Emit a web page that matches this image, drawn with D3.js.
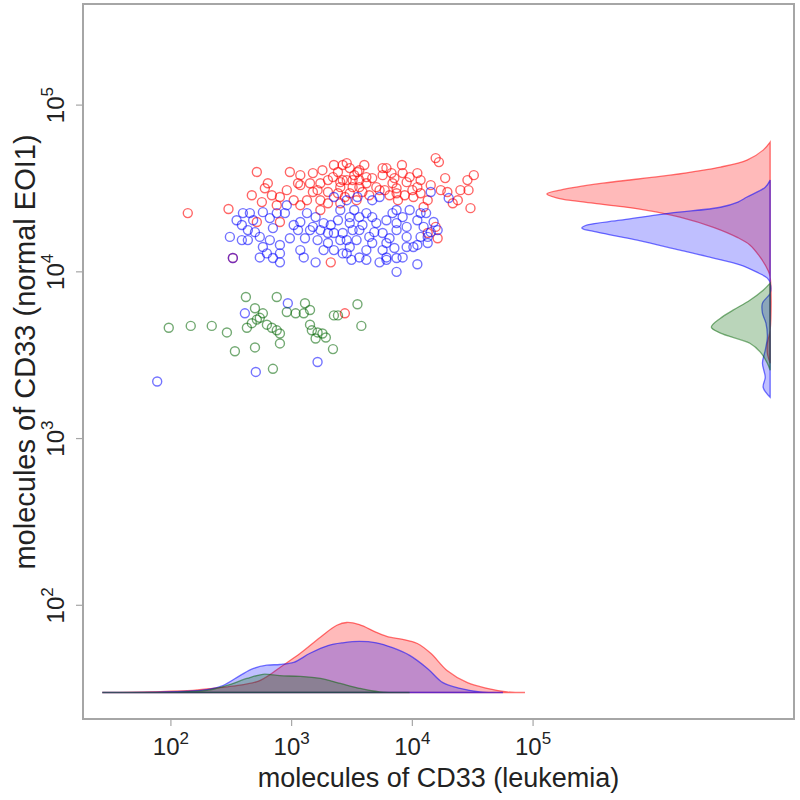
<!DOCTYPE html>
<html><head><meta charset="utf-8">
<script src="https://cdn.jsdelivr.net/npm/d3@7"></script>
<style>body{margin:0;background:#fff}</style>
</head><body>
<svg id="c" width="800" height="800"></svg>
<script>
// ---------- data (molecules of CD33) ----------
const xTicks = [1e2, 1e3, 1e4, 1e5];
const yTicks = [1e2, 1e3, 1e4, 1e5];
const xTitle = "molecules of CD33 (leukemia)";
const yTitle = "molecules of CD33 (normal EOI1)";

// scatter points [leukemia, normal EOI1]
const redPts = [
 [138,22500],[300,23800],[326,12100],[515,39700],[635,34000],[567,26200],[686,28800],[800,28100],
 [753,25100],[515,19900],[800,19900],[967,39700],[1180,38000],[1500,39100],[1130,34000],[1180,33100],
 [1420,34000],[1040,26900],[1180,25100],[1340,26900],[1730,26900],[2000,25800],[1730,23500],[1730,34000],
 [2000,30100],[2240,43700],[2650,43700],[2200,37000],[2530,34500],[2530,32200],[2530,25800],[2860,44900],
 [3030,41900],[3510,39700],[3640,40700],[2860,35500],[3200,32200],[3640,35500],[4160,34000],[4650,36500],
 [5350,30900],[4160,37000],[5030,32200],[3200,35500],[2650,35500],[3640,32200],[3030,29600],[6100,41900],
 [6720,39100],[8310,39100],[11000,39100],[11700,35500],[8970,34500],[7400,31700],[10000,30900],[8640,28800],
 [11700,29600],[13400,26900],[12400,24500],[17200,30900],[19500,30100],[21600,25800],[23800,26900],[15600,48100],
 [16600,45500],[32300,38000],[28600,35500],[29200,30900],[30300,24100],[16200,15900],[13400,17100],[15600,18600],
 [6850,34000],[9500,37000],[11000,32200],[7400,29600],[10200,28100],[2110,11400],[2760,5640],[5670,38000],
 [3860,30100],[2420,29600],[6470,28800],[1500,30100],
 [1800,40700],[2420,39700],[3300,38000],[4000,43700],[5670,41900],[7100,36500],[8200,43700],[5900,30900],
 [4400,28800],[3450,26900],[2760,28100],[2000,35500],[1640,30900],[912,30900],[600,31700],[468,28800],
 [14200,33100],[18700,36500],[25000,30900],[7600,26900]
];
const bluePts = [
 [395,22500],[451,22500],[387,19100],[434,17800],[308,16200],[387,15500],[434,15500],[545,16200],
 [660,15500],[578,14100],[545,12200],[624,12900],[800,14500],[800,12900],[800,11400],[967,15900],
 [578,22800],[660,21000],[753,22500],[880,22500],[912,25100],[1180,19900],[1340,22500],[1580,21300],
 [1420,17800],[1730,17800],[2000,17100],[1180,13500],[1260,12200],[1580,11400],[2240,13500],[2530,15500],
 [2860,12900],[480,20400],[1130,17800],[1500,18600],[1840,19600],[1640,15500],[2000,14900],[2240,17100],
 [2420,20400],[2530,23500],[2860,26900],[3030,21300],[3200,17800],[2860,15500],[3640,12200],[4160,11800],
 [2240,28100],[3510,28100],[4650,26900],[4160,22500],[5030,19600],[5670,17100],[6100,14900],[6850,22500],
 [7400,17800],[8970,16200],[13400,16200],[10200,14100],[11700,22500],[14200,30100],[20000,27700],[5350,28100],
 [7400,23500],[8310,21300],[7400,19600],[8970,18600],[11000,20400],[12400,18600],[15000,19900],[14200,17300],
 [11700,16200],[11000,14500],[13400,14900],[8970,14100],[8310,12200],[7400,12100],[6100,12200],[5670,13500],
 [4650,14900],[4400,16200],[3640,17800],[3030,19600],[2650,17100],[3450,15500],[4160,13500],[3030,14100],
 [2650,12900],[11000,11100],[7400,10000],[6100,11800],[3640,21300],[4650,21300],[6100,20400],[326,12100],
 [77,2200],[410,5640],[930,6480],[505,2510],[1640,2880],
 [497,17300],[350,20400],[700,18300],[1040,19100],[1290,15900],[1840,13500],[2110,19100],[3300,23500],
 [3860,19100],[4840,17300],[6470,15900],[7100,13900],[9500,23500],[13000,22500],[16200,17800],[5350,11400],
 [3130,11800],[700,12100]
];
const greenPts = [
 [96,4620],[146,4740],[218,4740],[291,4330],[339,3340],[418,7060],[497,6050],[426,4620],
 [468,4920],[515,5170],[578,5640],[545,5300],[624,4820],[497,3520],[686,4620],[753,4460],
 [800,4270],[753,7060],[800,3720],[700,2620],[912,5740],[1080,5640],[1260,5640],[1290,6480],
 [1420,5900],[1420,4820],[1470,4460],[1640,4330],[1800,4270],[1580,3980],[1920,4040],[2200,3440],
 [2240,5480],[2420,5480],[3510,6390],[3780,4740]
];

// marginal densities along leukemia axis: [molecules, relative density]
const redDensX = [[27,0],[152,0.03],[223,0.06],[326,0.09],[545,0.17],[850,0.39],[1180,0.56],[1730,0.79],
 [2370,0.96],[2860,1.0],[3640,0.97],[5030,0.86],[6470,0.79],[8310,0.76],[11000,0.70],[14200,0.56],
 [19500,0.31],[28600,0.14],[41500,0.06],[60800,0.01],[85700,0]];
const blueDensX = [[27,0],[199,0.04],[270,0.10],[373,0.24],[478,0.34],[624,0.39],[800,0.40],[1040,0.43],
 [1420,0.56],[2000,0.67],[2650,0.71],[3640,0.73],[5030,0.71],[6850,0.64],[9500,0.53],[13400,0.34],
 [17900,0.14],[24800,0.06],[36300,0.01],[56300,0]];
const greenDensX = [[27,0],[199,0.03],[291,0.10],[426,0.20],[578,0.26],[800,0.24],[1180,0.23],[1730,0.20],
 [2530,0.13],[3640,0.06],[5350,0.01],[9500,0]];

// marginal densities along normal EOI1 axis: [molecules, relative density]
const redDensY = [[60000,0],[53700,0.10],[46800,0.33],[42500,0.71],[38000,1.43],[34000,2.39],[30900,3.00],
 [29300,3.19],[27700,3.04],[25800,2.53],[23400,1.76],[21300,1.29],[18500,0.81],[16100,0.47],[14500,0.29],
 [12200,0.14],[10200,0.03],[9300,0],[4470,0],[3730,0.04],[3250,0.04],[2830,0]];
const blueDensY = [[35500,0],[32200,0.07],[28100,0.33],[26200,0.46],[24400,0.71],[22500,1.43],[20400,2.14],
 [19100,2.61],[18300,2.69],[17300,2.47],[15500,1.90],[13500,1.29],[12100,0.81],[11000,0.43],[9950,0.19],
 [9170,0.04],[8550,0],[7450,0],[6490,0.11],[5650,0.11],[4920,0.06],[4060,0.04],[3390,0.07],[2830,0.11],
 [2330,0.07],[2030,0.10],[1770,0]];
const greenDensY = [[8550,0],[7760,0.10],[6760,0.29],[5890,0.53],[5270,0.71],[4660,0.84],[4290,0.71],
 [3730,0.29],[3300,0.14],[2830,0.04],[2570,0]];

// axis limits and marginal baselines
const xDomain = [18.7, 1.45e7];
const yDomain = [20.8, 4.04e5];
const xMarginBase = 9.2e6;   // baseline of the right-hand density
const yMarginBase = 30;      // baseline of the bottom density

// ---------- drawing ----------
const svg = d3.select("#c");
const box = {l: 83, r: 794, t: 4, b: 719};
const x = d3.scaleLog().domain(xDomain).range([box.l, box.r]);
const y = d3.scaleLog().domain(yDomain).range([box.b, box.t]);
const dLen = d3.scaleLinear().domain([0, 1]).range([0, 70]);
const font = "'Liberation Sans', Arial, Helvetica, sans-serif";

const cols = {
  red:   {stroke: "rgba(255,0,0,0.6)", fill: "rgba(255,0,0,0.27)", line: "rgba(255,0,0,0.55)"},
  blue:  {stroke: "rgba(0,0,255,0.55)", fill: "rgba(0,0,255,0.25)", line: "rgba(0,0,255,0.55)"},
  green: {stroke: "rgba(0,100,0,0.55)", fill: "rgba(0,100,0,0.27)", line: "rgba(0,100,0,0.5)"}
};

// bottom marginal densities
const xb = x(xMarginBase), yb = y(yMarginBase);
const areaX = d3.area().curve(d3.curveCatmullRom.alpha(0.5))
  .x(d => x(d[0])).y0(yb).y1(d => yb - dLen(d[1]));
[[redDensX, cols.red], [blueDensX, cols.blue], [greenDensX, cols.green]].forEach(([d, c]) => {
  svg.append("path").datum(d).attr("d", areaX)
    .attr("fill", c.fill).attr("stroke", c.line).attr("stroke-width", 1.3);
});

// right marginal densities
const areaY = d3.area().curve(d3.curveCatmullRom.alpha(0.5))
  .y(d => y(d[0])).x0(xb).x1(d => xb - dLen(d[1]));
[[redDensY, cols.red], [blueDensY, cols.blue], [greenDensY, cols.green]].forEach(([d, c]) => {
  svg.append("path").datum(d).attr("d", areaY)
    .attr("fill", c.fill).attr("stroke", c.line).attr("stroke-width", 1.3);
});

// scatter
[[redPts, cols.red], [bluePts, cols.blue], [greenPts, cols.green]].forEach(([pts, c]) => {
  svg.append("g").selectAll("circle").data(pts).join("circle")
    .attr("cx", d => x(d[0])).attr("cy", d => y(d[1])).attr("r", 4.5)
    .attr("fill", "none").attr("stroke", c.stroke).attr("stroke-width", 1.4);
});

// frame
svg.append("rect").attr("x", box.l).attr("y", box.t)
  .attr("width", box.r - box.l).attr("height", box.b - box.t)
  .attr("fill", "none").attr("stroke", "#a6a6a6").attr("stroke-width", 2);

// x ticks
const gx = svg.append("g");
xTicks.forEach(t => {
  const px = x(t);
  gx.append("line").attr("x1", px).attr("x2", px).attr("y1", box.b).attr("y2", box.b + 7)
    .attr("stroke", "#a6a6a6").attr("stroke-width", 1.2);
  const tx = gx.append("text").attr("x", px).attr("y", 755).attr("text-anchor", "middle")
    .attr("font-family", font).attr("font-size", 24).attr("fill", "#222");
  tx.append("tspan").text("10");
  tx.append("tspan").attr("dy", -11).attr("font-size", 17).text(Math.round(Math.log10(t)));
});
svg.append("text").attr("x", (box.l + box.r) / 2).attr("y", 787).attr("text-anchor", "middle")
  .attr("font-family", font).attr("font-size", 27).attr("fill", "#222").text(xTitle);

// y ticks
const gy = svg.append("g");
yTicks.forEach(t => {
  const py = y(t);
  gy.append("line").attr("x1", box.l - 7).attr("x2", box.l).attr("y1", py).attr("y2", py)
    .attr("stroke", "#a6a6a6").attr("stroke-width", 1.2);
  const ty = gy.append("text").attr("transform", `translate(64,${py}) rotate(-90)`)
    .attr("text-anchor", "middle")
    .attr("font-family", font).attr("font-size", 24).attr("fill", "#222");
  ty.append("tspan").text("10");
  ty.append("tspan").attr("dy", -11).attr("font-size", 17).text(Math.round(Math.log10(t)));
});
svg.append("text").attr("transform", `translate(35,352) rotate(-90)`)
  .attr("text-anchor", "middle")
  .attr("font-family", font).attr("font-size", 29).attr("fill", "#222").text(yTitle);
</script>
</body></html>
